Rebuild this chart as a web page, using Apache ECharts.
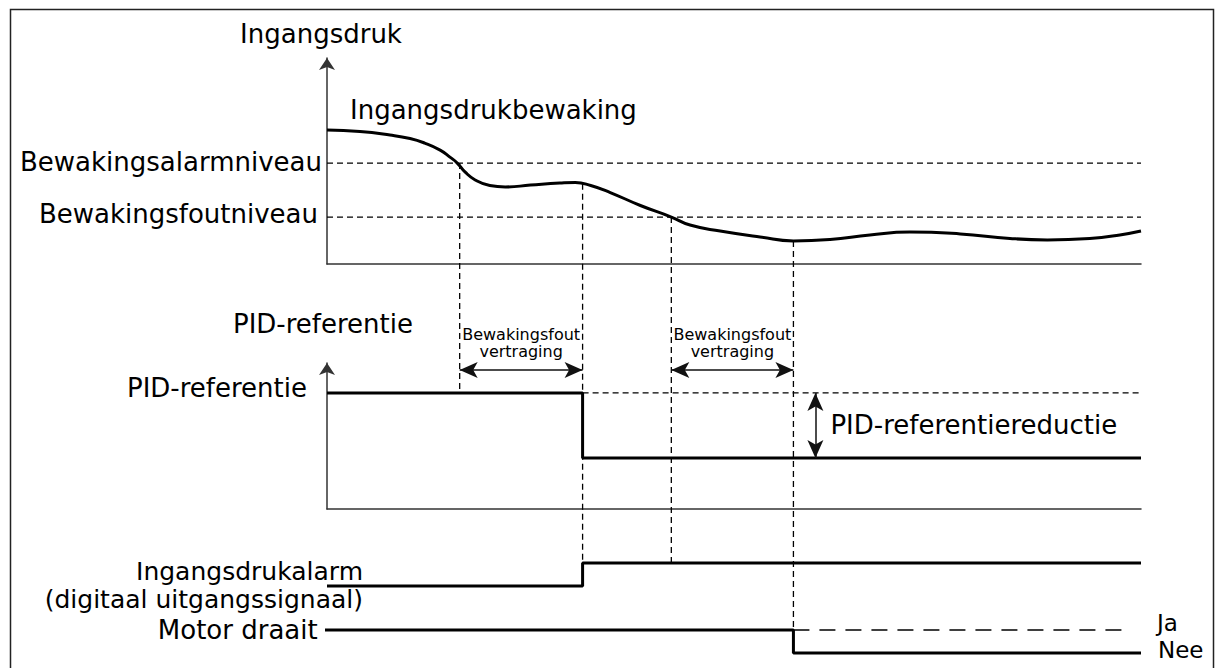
<!DOCTYPE html>
<html>
<head>
<meta charset="utf-8">
<script src="https://cdn.jsdelivr.net/npm/echarts@6/dist/echarts.min.js"></script>
<style>
html,body{margin:0;padding:0;background:#fff;}
#main{width:1215px;height:668px;}
</style>
</head>
<body>
<div id="main"></div>
<script>
// ---------- DATA (time axis 0..100, arbitrary units) ----------
const timeMin = 0;
const timeMax = 100;

// Ingangsdruk (input pressure) curve, top panel
const pressureTimes  = [0, 4.05, 7.74, 10.2, 12.0, 13.9, 15.1, 16.0, 16.95, 18.2, 20.0, 21.9, 25.0, 28.6, 30.5, 32.4, 34.8, 38.5, 42.3, 44.6, 48.3, 53.2, 57.3, 61.8, 66.7, 71.6, 77.8, 83.9, 88.5, 93.7, 97.4, 100];
const pressureValues = [65.0, 64.3, 62.6, 60.9, 58.7, 55.3, 51.9, 49.0, 44.7, 40.8, 38.1, 37.4, 38.3, 39.3, 39.6, 38.1, 34.7, 28.4, 22.8, 18.9, 16.0, 13.1, 11.2, 11.9, 14.1, 15.5, 14.6, 12.4, 11.7, 12.4, 14.1, 16.0];

// Supervision levels
const levelNames  = ['Bewakingsalarmniveau', 'Bewakingsfoutniveau'];
const levelValues = [49.0, 22.8];

// PID reference, middle panel
const pidTimes   = [0, 31.4, 31.4, 100];
const pidValues  = [79.5, 79.5, 34.9, 34.9];
const pidNominal = 79.5;
const pidReduced = 34.9;

// Digital signals (0 = off, 1 = on)
const alarmTimes  = [0, 31.4, 31.4, 100];
const alarmValues = [0, 0, 1, 1];
const motorTimes  = [-0.9, 57.3, 57.3, 100];
const motorValues = [1, 1, 0, 0];
const motorGhostTimes = [57.3, 98.6];

// Events (vertical dashed markers)
const eventTimes      = [16.3, 31.4, 42.3, 57.3];
const eventTopValues  = [49.0, 38.9, 22.8, 11.2];   // on the pressure curve
const eventEndGrid    = [1, 2, 2, 3];
const eventEndValues  = [79.5, 1, 1, 1];

// Delay arrows (Bewakingsfoutvertraging)
const delayStarts = [16.3, 42.3];
const delayEnds   = [31.4, 57.3];
const delayLevel  = 95.2;
const delayText   = 'Bewakingsfout\nvertraging';
const reductionTime = 60;
const reductionText = 'PID-referentiereductie';

// ---------- STYLE ----------
const FONT = 'DejaVu Sans';
const BIG = 26;
const TXT = '#000';
const AXC = '#333';

function pairs(xs, ys) { return xs.map((x, i) => [x, ys[i]]); }

const gridL = 327, gridR = 74;
const grids = [
  {left: gridL, right: gridR, top: 58, height: 206},   // Ingangsdruk
  {left: gridL, right: gridR, top: 363, height: 146},  // PID-referentie
  {left: gridL, right: gridR, top: 563, height: 23},   // Ingangsdrukalarm
  {left: gridL, right: gridR, top: 630, height: 23}    // Motor draait
];

const xAxes = grids.map((g, i) => ({
  type: 'value', gridIndex: i, min: timeMin, max: timeMax,
  show: i < 2,
  axisLine: {show: true, lineStyle: {color: AXC, width: 1.5}},
  axisTick: {show: false}, axisLabel: {show: false}, splitLine: {show: false}
}));

const yAxes = [
  {type: 'value', gridIndex: 0, min: 0, max: 100,
   name: 'Ingangsdruk', nameLocation: 'end', nameGap: 11,
   nameTextStyle: {fontFamily: FONT, fontSize: BIG, color: TXT, padding: [0, 12, 0, 0]},
   axisLine: {show: true, symbol: ['none', 'arrow'], symbolSize: [12, 12], lineStyle: {color: AXC, width: 1.5}},
   axisTick: {show: false}, axisLabel: {show: false}, splitLine: {show: false}},
  {type: 'value', gridIndex: 1, min: 0, max: 100,
   name: 'PID-referentie', nameLocation: 'end', nameGap: 26,
   nameTextStyle: {fontFamily: FONT, fontSize: BIG, color: TXT, padding: [0, 8, 0, 0]},
   axisLine: {show: true, symbol: ['none', 'arrow'], symbolSize: [12, 12], lineStyle: {color: AXC, width: 1.5}},
   axisTick: {show: false}, axisLabel: {show: false}, splitLine: {show: false}},
  {type: 'value', gridIndex: 2, min: 0, max: 1, show: false},
  {type: 'value', gridIndex: 3, min: 0, max: 1, show: false}
];

const dashed = {type: [6, 4], width: 1.3, color: '#000'};
const solid = {type: 'solid', width: 3, color: '#000'};
const labelBase = {show: true, fontFamily: FONT, fontSize: BIG, color: TXT};

function lineSeries(gi, data, lineStyle, extra) {
  return Object.assign({
    type: 'line', xAxisIndex: gi, yAxisIndex: gi, data: data,
    symbol: 'none', lineStyle: lineStyle, silent: true, clip: false, z: 3
  }, extra || {});
}

function labelSeries(gi, items) {
  return {
    type: 'scatter', xAxisIndex: gi, yAxisIndex: gi, symbolSize: 0, silent: true, z: 5,
    clip: false,
    itemStyle: {color: 'transparent', opacity: 1},
    label: Object.assign({}, labelBase, {formatter: '{b}'}),
    data: items
  };
}

const series = [
  // level lines
  ...levelValues.map(v => lineSeries(0, [[timeMin, v], [timeMax, v]], dashed, {z: 1})),
  // pressure curve
  lineSeries(0, pairs(pressureTimes, pressureValues), solid, {smooth: 0.5, clip: true}),
  // PID nominal dashed continuation
  lineSeries(1, [[pidTimes[1], pidNominal], [timeMax, pidNominal]], dashed, {z: 1}),
  // PID reference step
  lineSeries(1, pairs(pidTimes, pidValues), solid, {
    markLine: {
      silent: true, symbol: ['arrow', 'arrow'], symbolSize: [12, 18],
      label: {show: false},
      lineStyle: {type: 'solid', color: '#111', width: 1.5},
      data: [
        ...delayStarts.map((s, i) => [{coord: [s, delayLevel]}, {coord: [delayEnds[i], delayLevel]}]),
        [{coord: [reductionTime, pidNominal]}, {coord: [reductionTime, pidReduced]}]
      ]
    }
  }),
  // alarm
  lineSeries(2, pairs(alarmTimes, alarmValues), solid),
  // motor
  lineSeries(3, [[motorGhostTimes[0], 1], [motorGhostTimes[1], 1]], {type: [16, 10], width: 1.3, color: '#000'}, {z: 1}),
  lineSeries(3, pairs(motorTimes, motorValues), solid),
  // labels
  labelSeries(0, [
    {name: 'Ingangsdrukbewaking', value: [2.83, 74.8], label: {position: 'right', distance: 0}},
    {name: levelNames[0], value: [timeMin, levelValues[0]], label: {position: 'left', distance: 5, offset: [0, -1.5]}},
    {name: levelNames[1], value: [timeMin, levelValues[1]], label: {position: 'left', distance: 9, offset: [0, -2.7]}}
  ]),
  labelSeries(1, [
    {name: 'PID-referentie', value: [timeMin, pidNominal], label: {position: 'left', distance: 20, offset: [0, -4.5]}},
    ...delayStarts.map((s, i) => ({name: delayText, value: [(s + delayEnds[i]) / 2, delayLevel],
      label: {position: 'top', distance: 10, fontSize: 16, lineHeight: 17, align: 'center'}})),
    {name: reductionText, value: [reductionTime, (pidNominal + pidReduced) / 2 + 0.5], label: {position: 'right', distance: 15}}
  ]),
  labelSeries(2, [
    {name: 'Ingangsdrukalarm\n(digitaal uitgangssignaal)', value: [4.42, 0],
     label: {position: 'left', distance: 0, lineHeight: 28, fontSize: 25, align: 'right', offset: [0, -1]}}
  ]),
  labelSeries(3, [
    {name: 'Motor draait', value: [motorTimes[0], 1], label: {position: 'left', distance: 2}},
    {name: 'Ja', value: [timeMax, 1], label: {position: 'right', distance: 16, offset: [0, -7.5], fontSize: 23}},
    {name: 'Nee', value: [timeMax, 0], label: {position: 'right', distance: 17, offset: [0, -3.5], fontSize: 23}}
  ])
];

const chart = echarts.init(document.getElementById('main'), null, {renderer: 'svg'});
chart.setOption({
  animation: false,
  backgroundColor: '#fff',
  grid: grids,
  xAxis: xAxes,
  yAxis: yAxes,
  graphic: [{
    type: 'rect', left: 8, top: 7, silent: true,
    shape: {width: 1203, height: 700},
    style: {fill: 'none', stroke: '#222', lineWidth: 1.5}
  }],
  series: series
});

// vertical event markers: from the pressure curve down to the target signal in a lower panel
const markerSeries = eventTimes.map((t, i) => {
  const endPx = chart.convertToPixel({gridIndex: eventEndGrid[i]}, [t, eventEndValues[i]]);
  const endIn0 = chart.convertFromPixel({gridIndex: 0}, endPx);
  return lineSeries(0, [[t, eventTopValues[i]], [t, endIn0[1]]], dashed, {z: 1});
});
chart.setOption({series: series.concat(markerSeries)});
</script>
</body>
</html>
